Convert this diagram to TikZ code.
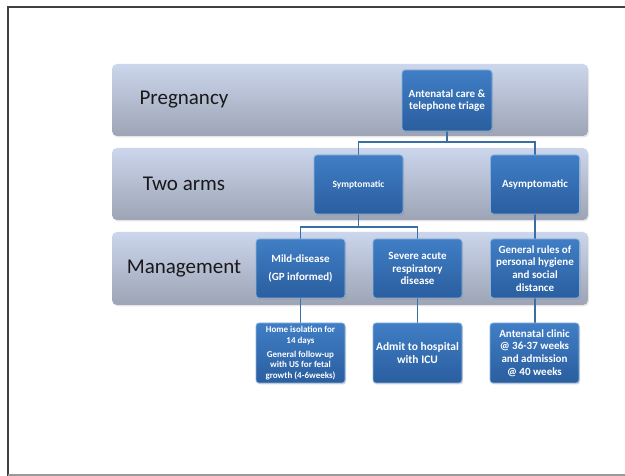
\documentclass[tikz,border=0pt]{standalone}
\usepackage{fontspec}
\setmainfont{Carlito}
\usetikzlibrary{shadows}
\definecolor{bandtop}{HTML}{CCD6EC}
\definecolor{bandbot}{HTML}{9CA4B5}
\definecolor{boxtop}{HTML}{407EC5}
\definecolor{boxbot}{HTML}{2A5E9F}
\definecolor{boxedge}{HTML}{8AB3E0}
\definecolor{linkblue}{HTML}{3A6EA6}
\tikzset{
  band/.style={rounded corners=5pt, top color=bandtop, bottom color=bandbot,
    drop shadow={opacity=0.2, shadow xshift=1pt, shadow yshift=-1.5pt}},
  bandlabel/.style={font=\fontsize{21}{24}\selectfont, text=black!90},
  stepbox/.style={rectangle, rounded corners=3pt, minimum width=89pt, minimum height=59pt,
    inner sep=2pt, align=center, text=white, font=\bfseries\fontsize{11}{12.8}\selectfont,
    top color=boxtop, bottom color=boxbot, draw=boxedge, line width=0.8pt,
    drop shadow={opacity=0.3, shadow xshift=1pt, shadow yshift=-1.5pt}},
  link/.style={draw=linkblue, line width=1.4pt}
}
\begin{document}
\begin{tikzpicture}[x=1pt, y=-1pt]
  \useasboundingbox (0,0) rectangle (625,476);
  % Frame
  \draw[black!75, line width=2pt] (8,476) -- (8,7) -- (625,7);
  \draw[black!40, line width=1.5pt] (8,475) -- (625,475);
  % Bands
  \foreach \n/\a/\b/\t in {preg/64/136/Pregnancy, arms/148/220/Two arms, mgmt/232/305/Management} {
    \path[band] (112,\a) rectangle (588,\b);
    \node[bandlabel] (\n) at (184,{(\a+\b)/2}) {\t};
  }
  % Links
  \coordinate (split1) at (447,142);
  \coordinate (split2) at (358.5,227);
  \draw[link] (447,131) -- (split1) -| (358.5,155);
  \draw[link] (split1) -| (535,155);
  \draw[link] (358.5,214) -- (split2) -| (300.5,239);
  \draw[link] (split2) -| (417.5,239);
  \draw[link] (535,214) -- (535,239);
  \foreach \x in {300.5, 417.5, 535} {
    \draw[link] (\x,298) -- (\x,323);
  }
  % Boxes
  \node[stepbox, minimum width=90pt, minimum height=61pt] (care) at (447,100.5) {Antenatal care \&\\telephone triage};
  \node[stepbox, font=\bfseries\fontsize{9.5}{11}\selectfont] (symp) at (358.5,184.5) {Symptomatic};
  \node[stepbox] (asymp) at (535,184.5) {Asymptomatic};
  \node[stepbox] (mild) at (300.5,268.5) {Mild-disease\\[5pt](GP informed)};
  \node[stepbox] (severe) at (417.5,268.5) {Severe acute\\respiratory\\disease};
  \node[stepbox] (rules) at (535,268.5) {General rules of\\personal hygiene\\and social\\distance};
  \node[stepbox, minimum height=60pt, font=\bfseries\fontsize{9}{10.3}\selectfont] (home) at (300.5,353) {Home isolation for\\14 days\\[4pt]General follow-up\\with US for fetal\\growth (4-6weeks)};
  \node[stepbox, minimum height=60pt, font=\bfseries\fontsize{11.5}{13.5}\selectfont] (admit) at (417.5,353) {Admit to hospital\\with ICU};
  \node[stepbox, minimum height=60pt] (clinic) at (534.5,353) {Antenatal clinic\\@ 36-37 weeks\\and admission\\@ 40 weeks};
\end{tikzpicture}
\end{document}
